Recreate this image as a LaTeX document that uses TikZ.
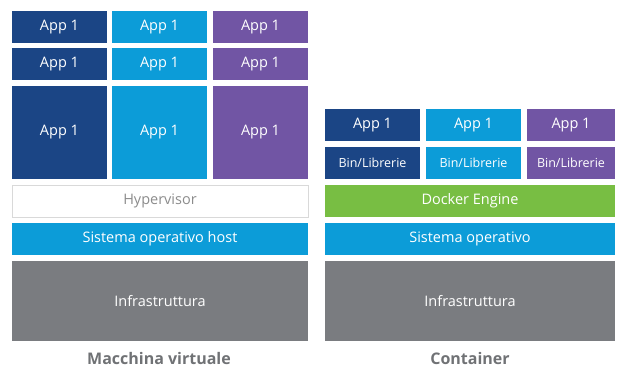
\documentclass[tikz,border=0pt]{standalone}
\usepackage{fontspec}
\setmainfont{Open Sans}
\usetikzlibrary{positioning}

\definecolor{vmdark}{HTML}{1B4585}
\definecolor{vmcyan}{HTML}{0C9CD8}
\definecolor{vmpurple}{HTML}{7155A4}
\definecolor{vmgreen}{HTML}{78BE43}
\definecolor{vmgrey}{HTML}{7A7C80}
\definecolor{vmtext}{HTML}{707275}

\tikzset{
  layer/.style={rectangle, anchor=north west, inner sep=0pt, outer sep=0pt,
    text=white, font=\fontsize{14.5}{16}\selectfont},
  appbox/.style={layer, minimum width=95pt, minimum height=32pt},
  libbox/.style={appbox, font=\fontsize{12.5}{14}\selectfont},
  caption/.style={text=vmtext, font=\fontsize{16}{19}\selectfont\bfseries}
}

\begin{document}
\begin{tikzpicture}[x=1pt, y=-1pt]
\useasboundingbox (0,0) rectangle (617,367);

% Macchina virtuale: three columns of apps
\node[appbox, fill=vmdark]   (vmA1) at (12,11) {App 1};
\node[appbox, fill=vmcyan]   (vmB1) at (112,11) {App 1};
\node[appbox, fill=vmpurple] (vmC1) at (213,11) {App 1};
\node[appbox, fill=vmdark]   (vmA2) at (12,48) {App 1};
\node[appbox, fill=vmcyan]   (vmB2) at (112,48) {App 1};
\node[appbox, fill=vmpurple] (vmC2) at (213,48) {App 1};
\node[appbox, fill=vmdark,   minimum height=93pt] (vmA3) at (12,86) {App 1};
\node[appbox, fill=vmcyan,   minimum height=93pt] (vmB3) at (112,86) {App 1};
\node[appbox, fill=vmpurple, minimum height=93pt] (vmC3) at (213,86) {App 1};

% Macchina virtuale: lower layers
\node[layer, draw=black!15, line width=1pt, fill=white, text=black!45,
  minimum width=296pt, minimum height=32pt] (hyper) at (12,185) {Hypervisor};
\node[layer, fill=vmcyan, minimum width=296pt, minimum height=32pt]
  (hostos) at (12,223) {Sistema operativo host};
\node[layer, fill=vmgrey, minimum width=296pt, minimum height=80pt]
  (vminfra) at (12,261) {Infrastruttura};
\node[caption] (vmlabel) at (159,358) {Macchina virtuale};

% Container: apps and libraries
\node[appbox, fill=vmdark]   (ctA1) at (325,109) {App 1};
\node[appbox, fill=vmcyan]   (ctB1) at (426,109) {App 1};
\node[appbox, fill=vmpurple, minimum width=88pt] (ctC1) at (527,109) {App 1};
\node[libbox, fill=vmdark]   (ctA2) at (325,147) {Bin/Librerie};
\node[libbox, fill=vmcyan]   (ctB2) at (426,147) {Bin/Librerie};
\node[libbox, fill=vmpurple, minimum width=88pt] (ctC2) at (527,147) {Bin/Librerie};

% Container: lower layers
\node[layer, fill=vmgreen, minimum width=290pt, minimum height=32pt]
  (docker) at (325,185) {Docker Engine};
\node[layer, fill=vmcyan, minimum width=290pt, minimum height=32pt]
  (ctos) at (325,223) {Sistema operativo};
\node[layer, fill=vmgrey, minimum width=290pt, minimum height=80pt]
  (ctinfra) at (325,261) {Infrastruttura};
\node[caption] (ctlabel) at (470,358) {Container};
\end{tikzpicture}
\end{document}
